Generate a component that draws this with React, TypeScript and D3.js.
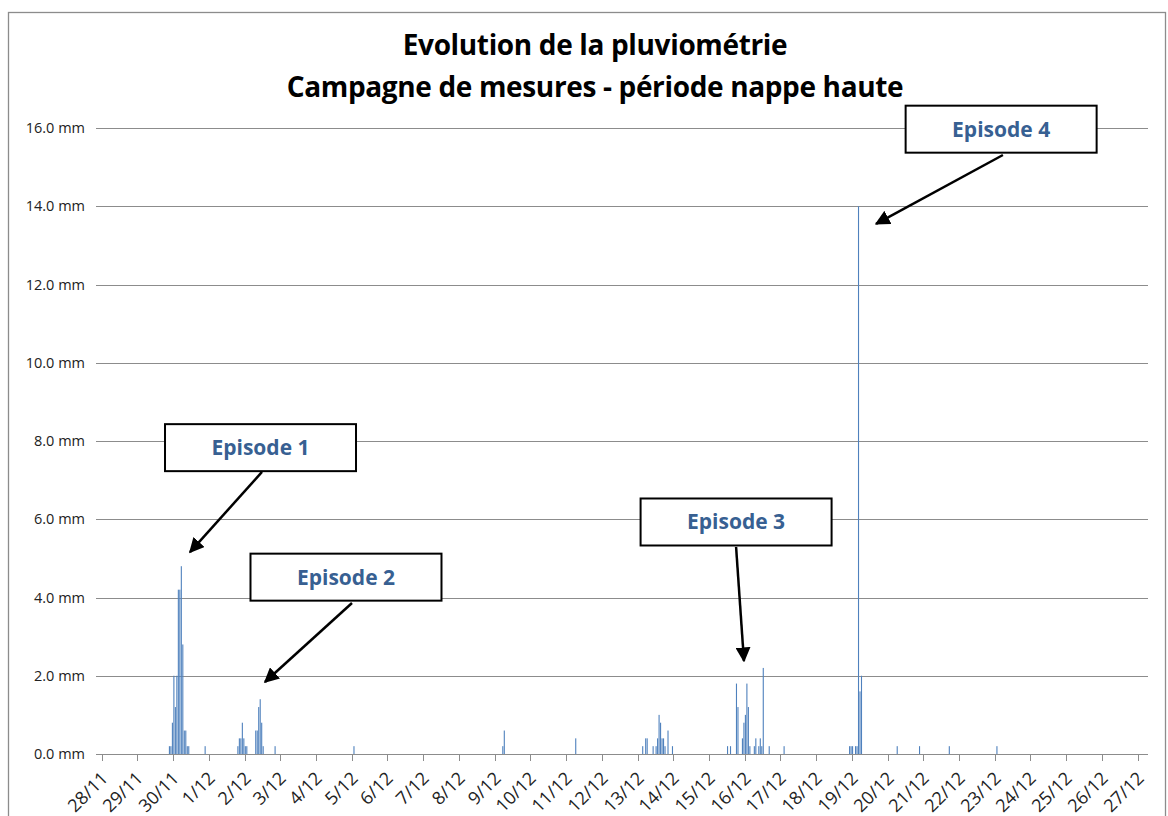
import React from 'react';
import * as d3 from 'd3';

// hourly rain gauge readings (dd/mm hh), mm
const rainHours = [
  '29/11 21', '29/11 22', '29/11 23', '30/11 0', '30/11 1', '30/11 2', '30/11 3', '30/11 4',
  '30/11 5', '30/11 6', '30/11 7', '30/11 8', '30/11 9', '30/11 10', '30/11 21',
  '1/12 19', '1/12 20', '1/12 21', '1/12 22', '1/12 23', '2/12 0', '2/12 1',
  '2/12 7', '2/12 8', '2/12 9', '2/12 10', '2/12 11', '2/12 12', '2/12 20',
  '5/12 1', '9/12 5', '9/12 6', '11/12 6',
  '13/12 3', '13/12 5', '13/12 6', '13/12 10', '13/12 12', '13/12 13', '13/12 14', '13/12 15',
  '13/12 16', '13/12 17', '13/12 18', '13/12 20', '13/12 23',
  '15/12 12', '15/12 14', '15/12 18', '15/12 19', '15/12 22', '15/12 23', '16/12 0', '16/12 1',
  '16/12 2', '16/12 3', '16/12 6', '16/12 7', '16/12 9', '16/12 10', '16/12 11', '16/12 12',
  '16/12 16', '17/12 2',
  '18/12 22', '18/12 23', '19/12 0', '19/12 2', '19/12 3', '19/12 4', '19/12 5', '19/12 6',
  '20/12 6', '20/12 21', '21/12 17', '23/12 1',
];
const rainMm = [
  0.2, 0.2, 0.8, 2.0, 1.2, 2.0, 4.2, 4.2,
  4.8, 2.8, 0.6, 0.6, 0.2, 0.2, 0.2,
  0.2, 0.4, 0.4, 0.8, 0.4, 0.2, 0.2,
  0.6, 0.6, 1.2, 1.4, 0.8, 0.2, 0.2,
  0.2, 0.2, 0.6, 0.4,
  0.2, 0.4, 0.4, 0.2, 0.2, 0.4, 1.0, 0.8,
  0.4, 0.4, 0.2, 0.6, 0.2,
  0.2, 0.2, 1.8, 1.2, 0.4, 0.8, 1.0, 1.8,
  1.2, 0.2, 0.2, 0.4, 0.2, 0.4, 0.2, 2.2,
  0.2, 0.2,
  0.2, 0.2, 0.2, 0.2, 0.2, 14.0, 1.6, 2.0,
  0.2, 0.2, 0.2, 0.2,
];

const yTicks = [0, 2, 4, 6, 8, 10, 12, 14, 16];

// annotations: box centre and arrow in (days since 28/11, mm)
const episodeLabels = ['Episode 1', 'Episode 2', 'Episode 3', 'Episode 4'];
const episodeBoxDay = [4.446, 6.839, 17.76, 25.18];
const episodeBoxMm = [7.83, 4.52, 5.93, 15.97];
const arrowFromDay = [4.488, 7.007, 17.76, 25.23];
const arrowFromMm = [7.21, 3.86, 5.29, 15.31];
const arrowToDay = [2.472, 4.571, 17.98, 21.68];
const arrowToMm = [5.16, 1.84, 2.38, 13.55];

const HOUR = 3600 * 1000;
const DAY = 24 * HOUR;
const START = Date.UTC(2012, 10, 28);
const END = Date.UTC(2012, 11, 27, 7);

const parseHour = (s: string) => {
  const [d, h] = s.split(' ');
  const [day, mon] = d.split('/');
  return Date.UTC(2012, +mon - 1, +day, +h);
};

const W = 1168;
const H = 816;
const margin = { top: 128, right: 20, bottom: 62, left: 101.7 };
const font = "'Open Sans', sans-serif";

export default function App() {
  const x = d3.scaleUtc().domain([START, END]).range([margin.left, W - margin.right]);
  const y = d3.scaleLinear().domain([0, 16]).range([H - margin.bottom, margin.top]);
  const fmt = d3.utcFormat('%-d/%m');
  const days = d3.utcDay.range(START, END + 1);
  const bw = 1.1;

  const dayX = (d: number) => x(START + d * DAY);

  return (
    <svg width={W} height={H} style={{ position: 'absolute', left: 0, top: 0, background: '#fff' }}>
      <defs>
        <marker id="head" viewBox="0 0 10 10" refX="9" refY="5" markerWidth="6" markerHeight="6" orient="auto">
          <path d="M0,0 L10,5 L0,10 z" fill="#000" />
        </marker>
      </defs>
      <rect x={8.5} y={12.5} width={1157} height={820} fill="#fff" stroke="#8c8c8c" strokeWidth={1.3} />

      <text x={595} y={55} textAnchor="middle" fontFamily={font} fontWeight="bold" fontSize={28} letterSpacing={-0.35}>
        Evolution de la pluviométrie
      </text>
      <text x={595} y={97} textAnchor="middle" fontFamily={font} fontWeight="bold" fontSize={28} letterSpacing={-0.35}>
        Campagne de mesures - période nappe haute
      </text>

      {yTicks.map(t => (
        <g key={t}>
          <line x1={96} x2={W - margin.right} y1={Math.round(y(t)) + 0.5} y2={Math.round(y(t)) + 0.5} stroke="#8c8c8c" strokeWidth={1} />
          <text x={85} y={y(t)} dy="0.35em" textAnchor="end" fontFamily={font} fontSize={14.5} fill="#222">
            {t.toFixed(1)} mm
          </text>
        </g>
      ))}

      {days.map(d => {
        const tx = Math.round(x(d)) + 0.5;
        return (
          <g key={+d}>
            <line x1={tx} x2={tx} y1={y(0)} y2={y(0) + 7} stroke="#8c8c8c" strokeWidth={1} />
            <text
              transform={`translate(${tx + 2},${y(0) + 21}) rotate(-45)`}
              textAnchor="end"
              dy="0.35em"
              fontFamily={font}
              fontSize={18}
              fill="#222"
            >
              {fmt(d)}
            </text>
          </g>
        );
      })}

      {rainHours.map((h, i) => {
        const t = parseHour(h);
        const cx = (x(t) + x(t + HOUR)) / 2;
        return (
          <rect key={h} x={cx - bw / 2} y={y(rainMm[i])} width={bw} height={y(0) - y(rainMm[i])} fill="#4F81BD" />
        );
      })}

      {episodeLabels.map((lab, i) => {
        const cx = dayX(episodeBoxDay[i]);
        const cy = y(episodeBoxMm[i]);
        return (
          <g key={lab}>
            <line
              x1={dayX(arrowFromDay[i])}
              y1={y(arrowFromMm[i])}
              x2={dayX(arrowToDay[i])}
              y2={y(arrowToMm[i])}
              stroke="#000"
              strokeWidth={2.5}
              markerEnd="url(#head)"
            />
            <rect x={cx - 95.5} y={cy - 23.5} width={191} height={47} fill="#fff" stroke="#000" strokeWidth={2} />
            <text x={cx} y={cy} dy="0.35em" textAnchor="middle" fontFamily={font} fontWeight="bold" fontSize={21} fill="#376092">
              {lab}
            </text>
          </g>
        );
      })}
    </svg>
  );
}
